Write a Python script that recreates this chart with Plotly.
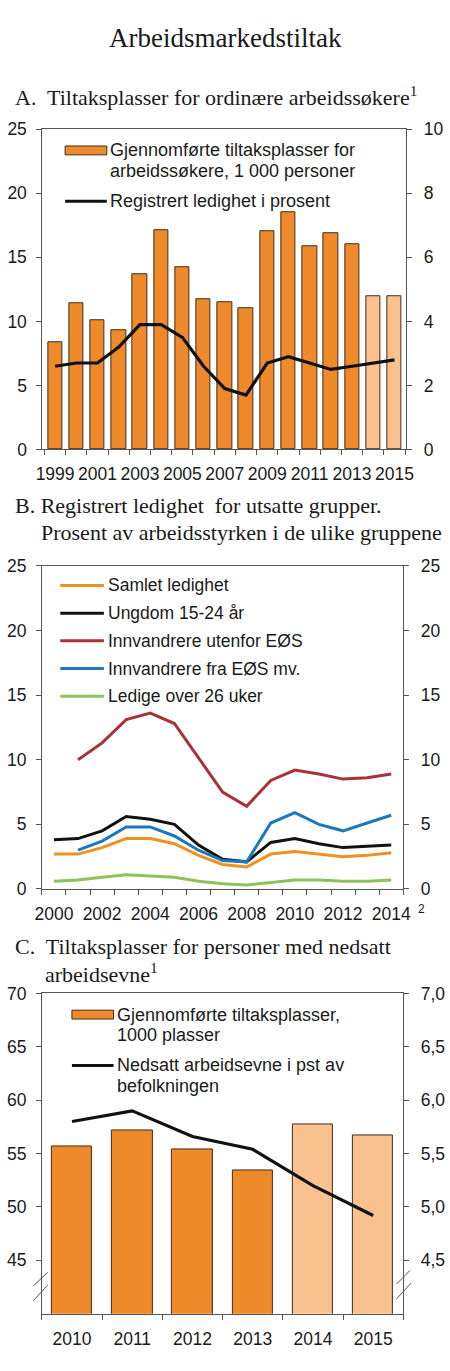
import plotly.graph_objects as go

W, H = 450, 1371

# Panel A: tiltaksplasser for ordinære arbeidssøkere
years_a = list(range(1999, 2016))
tiltak_a = [8.4, 11.4, 10.1, 9.3, 13.7, 17.1, 14.2, 11.7, 11.5, 11.0,
            17.0, 18.5, 15.9, 16.9, 16.0, 12.0, 12.0]
ledighet_a = [2.6, 2.7, 2.7, 3.2, 3.9, 3.9, 3.5, 2.6, 1.9, 1.7,
              2.7, 2.9, 2.7, 2.5, 2.6, 2.7, 2.8]
prognose_a = [False] * 15 + [True] * 2
ticks_a = [1999, 2001, 2003, 2005, 2007, 2009, 2011, 2013, 2015]

# Panel B: registrert ledighet for utsatte grupper
years_b = list(range(2000, 2015))
samlet = [2.7, 2.7, 3.2, 3.9, 3.9, 3.5, 2.6, 1.9, 1.7, 2.7, 2.9, 2.7, 2.5, 2.6, 2.8]
ungdom = [3.8, 3.9, 4.5, 5.6, 5.4, 5.0, 3.4, 2.3, 2.1, 3.6, 3.9, 3.5, 3.2, 3.3, 3.4]
utenfor_eos = [None, 10.0, 11.3, 13.1, 13.6, 12.8, 10.2, 7.5, 6.4, 8.4, 9.2, 8.9, 8.5, 8.6, 8.9]
fra_eos = [None, 3.0, 3.7, 4.8, 4.8, 4.1, 3.0, 2.2, 2.1, 5.1, 5.9, 5.0, 4.5, 5.1, 5.7]
over_26 = [0.6, 0.7, 0.9, 1.1, 1.0, 0.9, 0.6, 0.4, 0.3, 0.5, 0.7, 0.7, 0.6, 0.6, 0.7]
ticks_b = [2000, 2002, 2004, 2006, 2008, 2010, 2012, 2014]

# Panel C: tiltaksplasser for personer med nedsatt arbeidsevne
years_c = list(range(2010, 2016))
tiltak_c = [55.7, 57.2, 55.4, 53.4, 57.7, 56.7]
nedsatt_c = [5.80, 5.90, 5.66, 5.54, 5.20, 4.92]
prognose_c = [False] * 4 + [True] * 2

ORANGE = '#EF8A2A'
LIGHT = '#F8C18D'
EDGE = '#3d2c20'
AXIS = '#555555'
TXT = '#1a1a1a'
SANS = 'Liberation Sans'
SERIF = 'Liberation Serif'
tickfont = dict(family=SANS, size=17.5, color=TXT)

series_b = [
    ('Samlet ledighet', samlet, '#F0901E'),
    ('Ungdom 15-24 år', ungdom, '#111111'),
    ('Innvandrere utenfor EØS', utenfor_eos, '#A8323A'),
    ('Innvandrere fra EØS mv.', fra_eos, '#1C78BE'),
    ('Ledige over 26 uker', over_26, '#8DC15A'),
]


def px(x, y):
    return x / W, 1 - y / H


def xdom(x0, x1):
    return [x0 / W, x1 / W]


def ydom(top, bottom):
    return [1 - bottom / H, 1 - top / H]


def xaxis(domain, anchor, rng, labels, bounds):
    return dict(domain=domain, anchor=anchor, range=rng,
                tickmode='array', tickvals=labels, ticktext=[str(v) for v in labels],
                ticks='outside', ticklen=5, tickcolor='rgba(0,0,0,0)',
                ticklabelstandoff=4,
                minor=dict(tickmode='array', tickvals=bounds, ticks='outside',
                           ticklen=5, tickcolor=AXIS, tickwidth=1),
                showline=True, linecolor=AXIS, linewidth=1, mirror=True,
                showgrid=False, zeroline=False, tickfont=tickfont, fixedrange=True)


def yaxis(domain, anchor, rng, vals, side='left', overlaying=None, fmt=None):
    d = dict(anchor=anchor, range=rng, tickmode='array', tickvals=vals,
             ticks='outside', ticklen=5, tickcolor=AXIS, side=side,
             ticklabelstandoff=8 if side == 'right' else 6,
             showline=True, linecolor=AXIS, linewidth=1,
             showgrid=False, zeroline=False, tickfont=tickfont, fixedrange=True)
    if overlaying:
        d['overlaying'] = overlaying
    else:
        d['domain'] = domain
    if fmt:
        d['tickformat'] = fmt
    return d


fig = go.Figure()

# A
fig.add_trace(go.Bar(x=years_a, y=tiltak_a, width=0.68,
                     marker=dict(color=[LIGHT if p else ORANGE for p in prognose_a],
                                 line=dict(color=EDGE, width=1)),
                     xaxis='x', yaxis='y', showlegend=False))
fig.add_trace(go.Scatter(x=years_a, y=ledighet_a, mode='lines',
                         line=dict(color='#111111', width=3.2),
                         xaxis='x', yaxis='y2', showlegend=False))

# B
for name, vals, col in series_b:
    fig.add_trace(go.Scatter(x=years_b, y=vals, mode='lines', name=name,
                             line=dict(color=col, width=3),
                             xaxis='x2', yaxis='y3', showlegend=False))
# transparent copy so the right-hand axis in B is drawn
fig.add_trace(go.Scatter(x=years_b, y=samlet, mode='lines', opacity=0,
                         line=dict(width=0), hoverinfo='skip',
                         xaxis='x2', yaxis='y4', showlegend=False))

# C
fig.add_trace(go.Bar(x=years_c, y=tiltak_c, width=0.67,
                     marker=dict(color=[LIGHT if p else ORANGE for p in prognose_c],
                                 line=dict(color=EDGE, width=1)),
                     xaxis='x3', yaxis='y5', showlegend=False))
fig.add_trace(go.Scatter(x=years_c, y=nedsatt_c, mode='lines',
                         line=dict(color='#111111', width=3.2),
                         xaxis='x3', yaxis='y6', showlegend=False))

dom_a_x, dom_a_y = xdom(36.5, 412), ydom(121, 446)
dom_b_x, dom_b_y = xdom(36, 409), ydom(564, 892)
dom_c_x, dom_c_y = xdom(36, 409), ydom(998, 1323)

fig.update_layout(
    xaxis=xaxis(dom_a_x, 'y', [1998.4, 2015.55], ticks_a, [y - 0.5 for y in years_a] + [2015.5]),
    yaxis=yaxis(dom_a_y, 'x', [0, 25], [0, 5, 10, 15, 20, 25]),
    yaxis2=yaxis(None, 'x', [0, 10], [0, 2, 4, 6, 8, 10], side='right', overlaying='y'),
    xaxis2=xaxis(dom_b_x, 'y3', [1999.5, 2014.5], ticks_b, [y - 0.5 for y in years_b] + [2014.5]),
    yaxis3=yaxis(dom_b_y, 'x2', [0, 25], [0, 5, 10, 15, 20, 25]),
    yaxis4=yaxis(None, 'x2', [0, 25], [0, 5, 10, 15, 20, 25], side='right', overlaying='y3'),
    xaxis3=xaxis(dom_c_x, 'y5', [2009.5, 2015.5], years_c, [y - 0.5 for y in years_c] + [2015.5]),
    yaxis5=yaxis(dom_c_y, 'x3', [40, 70], [45, 50, 55, 60, 65, 70]),
    yaxis6=yaxis(None, 'x3', [4, 7], [4.5, 5.0, 5.5, 6.0, 6.5, 7.0], side='right',
                 overlaying='y5', fmt='.1f'),
    separators=', ',
    width=W, height=H,
    margin=dict(l=0, r=0, t=0, b=0),
    paper_bgcolor='white', plot_bgcolor='white',
    bargap=0,
)

annotations = []
shapes = []


def text(x, y, s, size=18, family=SANS, xanchor='left'):
    xx, yy = px(x, y)
    annotations.append(dict(x=xx, y=yy, xref='paper', yref='paper', text=s,
                            showarrow=False, xanchor=xanchor, yanchor='middle',
                            align='left', font=dict(family=family, size=size, color=TXT)))


def line_swatch(x0, x1, y, color):
    a, b = px(x0, y)
    c, _ = px(x1, y)
    shapes.append(dict(type='line', xref='paper', yref='paper', x0=a, x1=c, y0=b, y1=b,
                       line=dict(color=color, width=3)))


def bar_swatch(x0, x1, y0, y1, color):
    a, b = px(x0, y0)
    c, d = px(x1, y1)
    shapes.append(dict(type='rect', xref='paper', yref='paper', x0=a, x1=c, y0=b, y1=d,
                       fillcolor=color, line=dict(color=EDGE, width=1)))


def seg(x0, y0, x1, y1):
    a, b = px(x0, y0)
    c, d = px(x1, y1)
    shapes.append(dict(type='line', xref='paper', yref='paper', x0=a, y0=b, x1=c, y1=d,
                       line=dict(color=AXIS, width=1)))


# titles
text(226, 28, 'Arbeidsmarkedstiltak', size=27, family=SERIF, xanchor='center')
text(6, 87, 'A.  Tiltaksplasser for ordinære arbeidssøkere<sup>1</sup>', size=22, family=SERIF)
text(6, 503, 'B. Registrert ledighet  for utsatte grupper.', size=22, family=SERIF)
text(33, 530, 'Prosent av arbeidsstyrken i de ulike gruppene', size=22, family=SERIF)
text(6, 950, 'C.  Tiltaksplasser for personer med nedsatt', size=22, family=SERIF)
text(37, 977, 'arbeidsevne<sup>1</sup>', size=22, family=SERIF)

# legend A
bar_swatch(60, 103, 138, 147, ORANGE)
text(104, 142, 'Gjennomførte tiltaksplasser for')
text(104, 163, 'arbeidssøkere, 1 000 personer')
line_swatch(60, 103, 194, '#111111')
text(104, 194, 'Registrert ledighet i prosent')

# legend B
for i, (name, vals, col) in enumerate(series_b):
    yy = 584 + i * 28.1
    line_swatch(55, 100, yy, col)
    text(102, yy, name, size=17.5)
text(422, 912, '2', size=12)

# legend C
bar_swatch(67, 110, 1015, 1024, ORANGE)
text(111, 1020, 'Gjennomførte tiltaksplasser,')
text(111, 1040, '1000 plasser')
line_swatch(67, 110, 1071, '#111111')
text(111, 1071, 'Nedsatt arbeidsevne i pst av')
text(111, 1092, 'befolkningen')

# axis break marks in C
seg(27, 1295, 42, 1281)
seg(27, 1310, 42, 1294)
seg(402, 1293, 416, 1279)
seg(402, 1308, 417, 1292)

fig.update_layout(annotations=annotations, shapes=shapes)

fig.write_html("out.html", config={'displayModeBar': False},
               post_script="document.body.style.margin='0';document.body.style.overflow='hidden';")
